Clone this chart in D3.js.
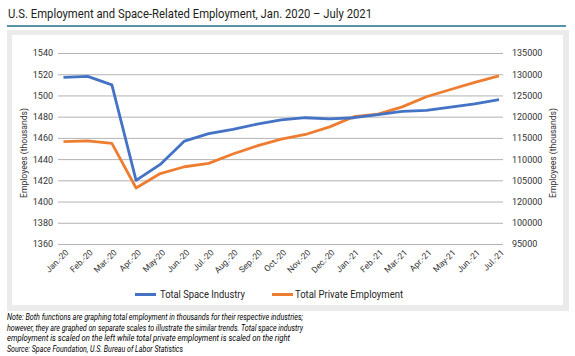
<!DOCTYPE html>
<html>
<head>
<meta charset="utf-8">
<script src="https://cdn.jsdelivr.net/npm/d3@7"></script>
<style>
  html, body { margin: 0; padding: 0; background: #ffffff; }
  svg { display: block; }
  text { font-family: Roboto, "Open Sans", "DejaVu Sans", sans-serif; }
</style>
</head>
<body>
<svg id="chart" width="575" height="356"></svg>
<script>
// ---------- DATA ----------
const months = ["Jan.-20","Feb.-20","Mar.-20","Apr.-20","May-20","Jun.-20","Jul.-20","Aug.-20","Sep.-20","Oct.-20","Nov.-20","Dec.-20","Jan.-21","Feb.-21","Mar.-21","Apr.-21","May-21","Jun.-21","Jul.-21"];
const spaceIndustry = [1517,1518,1510,1420,1435,1457,1464,1468,1473,1477,1479,1478,1479,1482,1485,1486,1489,1492,1496];
const privateEmployment = [114100,114300,113700,103200,106600,108200,109000,111200,113100,114700,115800,117600,120000,120600,122300,124700,126400,128100,129600];
const leftTicks = [1360,1380,1400,1420,1440,1460,1480,1500,1520,1540];
const rightTickValues = [135000,130000,125000,120000,115000,110000,105000,100000,95000,90000];
const rightTickLabels = ["135000","130000","125000","120000","115000","110000","105000","120000","100000","95000"];
const seriesNames = ["Total Space Industry","Total Private Employment"];
const titleText = "U.S. Employment and Space-Related Employment, Jan. 2020 \u2013 July 2021";
const noteLines = [
  "Note: Both functions are graphing total employment in thousands for their respective industries;",
  "however, they are graphed on separate scales to illustrate the similar trends. Total space industry",
  "employment is scaled on the left while total private employment is scaled on the right",
  "Source: Space Foundation, U.S. Bureau of Labor Statistics"
];

// ---------- LAYOUT ----------
const svg = d3.select("#chart");
const blue = "#4472C4", orange = "#ED7D31";
const gridLeft = 58, gridRight = 503, yTop = 53, yBottom = 244;

// title
svg.append("text").attr("x", 8).attr("y", 18)
  .attr("font-size", 13).attr("fill", "#231f20")
  .attr("textLength", 364).attr("lengthAdjust", "spacingAndGlyphs")
  .text(titleText);
svg.append("line").attr("x1", 7).attr("x2", 566).attr("y1", 26).attr("y2", 26)
  .attr("stroke", "#1f6f8b").attr("stroke-width", 1.5);

// panel
svg.append("rect").attr("x", 7).attr("y", 30).attr("width", 562).attr("height", 281).attr("fill", "#ebebeb");
svg.append("rect").attr("x", 12).attr("y", 35).attr("width", 551).attr("height", 270).attr("fill", "#ffffff");

// scales
const x = d3.scalePoint().domain(months).range([63.5, 499]);
const yL = d3.scaleLinear().domain([1360, 1540]).range([yBottom, yTop]);
const yR = d3.scaleLinear().domain([90000, 135000]).range([yBottom, yTop]);

// left axis with gridlines
const gL = svg.append("g").attr("transform", `translate(${gridLeft},0)`)
  .call(d3.axisLeft(yL).tickValues(leftTicks).tickSize(-(gridRight - gridLeft)).tickPadding(5).tickFormat(d3.format("d")));
gL.select(".domain").remove();
gL.selectAll(".tick line").attr("stroke", "#b3b3b3").attr("stroke-width", 1);
gL.selectAll(".tick text").attr("font-size", 9).attr("fill", "#333").style("font-family", "Roboto, sans-serif");

// right axis
const gR = svg.append("g").attr("transform", `translate(${gridRight},0)`)
  .call(d3.axisRight(yR).tickValues(rightTickValues).tickSize(0).tickPadding(9)
    .tickFormat(d => rightTickLabels[rightTickValues.indexOf(d)]));
gR.select(".domain").remove();
gR.selectAll(".tick text").attr("font-size", 9).attr("fill", "#333").style("font-family", "Roboto, sans-serif");

// x axis
const gX = svg.append("g").attr("transform", "translate(0,250)")
  .call(d3.axisBottom(x).tickSize(0).tickPadding(0));
gX.select(".domain").remove();
gX.selectAll(".tick text")
  .attr("font-size", 8.5).attr("fill", "#333").style("font-family", "Roboto, sans-serif")
  .attr("text-anchor", "end").attr("x", 0).attr("y", 0).attr("dy", "0.35em")
  .attr("transform", "translate(3,1) rotate(-45)");

// axis titles
svg.append("text").attr("transform", "translate(27,153) rotate(-90)")
  .attr("text-anchor", "middle").attr("font-size", 9).attr("fill", "#333")
  .attr("textLength", 90).attr("lengthAdjust", "spacingAndGlyphs")
  .text("Employees (thousands)");
svg.append("text").attr("transform", "translate(556,153) rotate(-90)")
  .attr("text-anchor", "middle").attr("font-size", 9).attr("fill", "#333")
  .attr("textLength", 90).attr("lengthAdjust", "spacingAndGlyphs")
  .text("Employees (thousands)");

// lines
const lineL = d3.line().x((d, i) => x(months[i])).y(d => yL(d));
const lineR = d3.line().x((d, i) => x(months[i])).y(d => yR(d));
svg.append("path").datum(privateEmployment).attr("d", lineR)
  .attr("fill", "none").attr("stroke", orange).attr("stroke-width", 2.8).attr("stroke-linejoin", "round");
svg.append("path").datum(spaceIndustry).attr("d", lineL)
  .attr("fill", "none").attr("stroke", blue).attr("stroke-width", 2.8).attr("stroke-linejoin", "round");

// legend
const legend = [
  {name: seriesNames[0], color: blue, x0: 135, tx: 160, tl: 85},
  {name: seriesNames[1], color: orange, x0: 272, tx: 295, tl: 108}
];
legend.forEach(l => {
  svg.append("line").attr("x1", l.x0).attr("x2", l.x0 + 21).attr("y1", 294.5).attr("y2", 294.5)
    .attr("stroke", l.color).attr("stroke-width", 3);
  svg.append("text").attr("x", l.tx).attr("y", 298).attr("font-size", 10).attr("fill", "#262626")
    .attr("textLength", l.tl).attr("lengthAdjust", "spacingAndGlyphs").text(l.name);
});

// notes
const noteLens = [296, 296, 283, 176];
noteLines.forEach((t, i) => {
  svg.append("text").attr("x", 7).attr("y", 320 + i * 10.5)
    .attr("font-size", 8.3).attr("font-style", "italic").attr("fill", "#000")
    .attr("textLength", noteLens[i]).attr("lengthAdjust", "spacingAndGlyphs").text(t);
});
</script>
</body>
</html>
